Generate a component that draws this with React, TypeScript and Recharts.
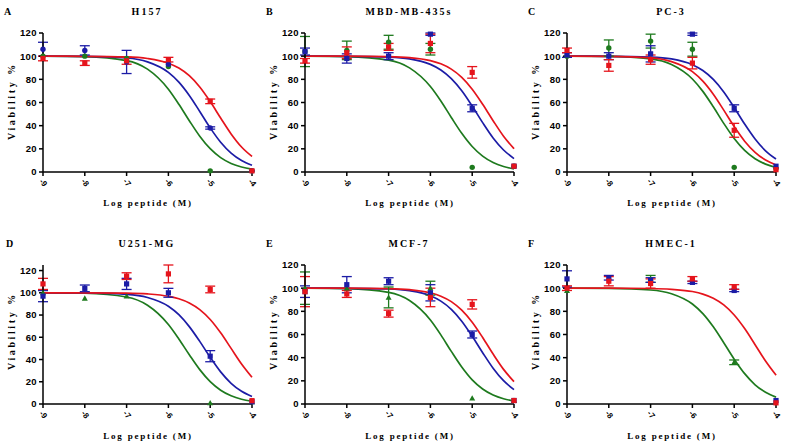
import React from 'react';
import { ComposedChart, Line, Scatter, ErrorBar, XAxis, YAxis } from 'recharts';

// x positions of the measured doses (log M)
const logDose = [-9, -8, -7, -6, -5, -4];
const fitX = [-9, -8, -7, -6.5, -6, -5.75, -5.5, -5.25, -5, -4.75, -4.5, -4.25, -4];
const yTicks = [0, 20, 40, 60, 80, 100, 120];

// A - H157
const aBlue = [106, 105, 95, 93, 38, 1];
const aBlueErr = [6, 4, 10, 0, 1, 0];
const aRed = [98, 94, 96, 97, 61, 1];
const aRedErr = [2, 2, 3, 2, 2, 0];
const aGreen = [100, 100, 98, 91, 1, 1];
const aGreenErr = [0, 0, 0, 0, 0, 0];
const aBlueFit = [100, 99.8, 98.4, 95.1, 86.0, 77.6, 66.1, 52.3, 38.1, 25.7, 16.3, 9.9, 5.8];
const aRedFit = [100, 99.9, 99.4, 98.0, 93.9, 89.7, 83.1, 73.4, 60.8, 46.6, 32.9, 21.6, 13.4];
const aGreenFit = [100, 99.6, 96.2, 88.8, 71.5, 58.5, 44.3, 30.9, 20.1, 12.4, 7.4, 4.3, 2.5];

// B - MBD-MB-435s
const bBlue = [104, 98, 100, 119, 55, 5];
const bBlueErr = [3, 4, 3, 1, 3, 0];
const bRed = [96, 103, 108, 111, 86, 5];
const bRedErr = [2, 5, 3, 8, 5, 0];
const bGreen = [104, 105, 112, 106, 4, 5];
const bGreenErr = [13, 8, 6, 5, 0, 0];
const bBlueFit = [100, 99.9, 99.2, 97.7, 92.9, 88.1, 80.6, 70.1, 56.9, 42.6, 29.4, 19.0, 11.6];
const bRedFit = [100, 100, 99.6, 98.8, 96.2, 93.4, 88.8, 81.7, 71.5, 58.5, 44.3, 30.9, 20.1];
const bGreenFit = [100, 99.6, 96.6, 89.9, 73.8, 61.3, 47.1, 33.4, 22.0, 13.7, 8.2, 4.8, 2.7];

// C - PC-3
const cBlue = [101, 100, 102, 119, 55, 5];
const cBlueErr = [2, 3, 7, 1, 3, 0];
const cRed = [105, 92, 97, 94, 36, 2];
const cRedErr = [2, 5, 4, 5, 6, 0];
const cGreen = [100, 107, 113, 106, 4, 3];
const cGreenErr = [0, 7, 6, 6, 0, 0];
const cBlueFit = [100, 99.9, 99.2, 97.6, 92.6, 87.6, 79.9, 69.1, 55.7, 41.4, 28.5, 18.3, 11.2];
const cRedFit = [100, 99.8, 98.5, 95.3, 86.6, 78.4, 67.1, 53.4, 39.2, 26.6, 17.0, 10.3, 6.1];
const cGreenFit = [100, 99.8, 97.6, 92.8, 80.3, 69.6, 56.3, 42.0, 28.9, 18.6, 11.4, 6.8, 3.9];

// D - U251-MG
const dBlue = [97, 104, 108, 100, 43, 2];
const dBlueErr = [5, 3, 5, 4, 5, 0];
const dRed = [108, null, 115, 117, 103, 3];
const dRedErr = [5, 0, 3, 8, 3, 0];
const dGreen = [100, 95, 97, null, 1, 2];
const dGreenErr = [0, 0, 0, 0, 0, 0];
const dBlueFit = [100, 99.9, 98.6, 95.8, 87.9, 80.3, 69.6, 56.3, 42.0, 28.9, 18.6, 11.4, 6.8];
const dRedFit = [100, 100, 99.7, 99.0, 96.9, 94.7, 90.9, 84.9, 76.0, 64.0, 50.0, 36.0, 24.0];
const dGreenFit = [100, 99.6, 96.2, 88.8, 71.5, 58.5, 44.3, 30.9, 20.1, 12.4, 7.4, 4.3, 2.5];

// E - MCF-7
const eBlue = [97, 103, 106, 96, 60, 3];
const eBlueErr = [5, 7, 3, 7, 3, 0];
const eRed = [97, 95, 78, 92, 86, 3];
const eRedErr = [13, 3, 3, 8, 4, 0];
const eGreen = [100, 100, 92, 100, 5, 3];
const eGreenErr = [14, 0, 9, 6, 0, 0];
const eBlueFit = [100, 99.9, 99.3, 97.8, 93.4, 88.8, 81.7, 71.5, 58.5, 44.3, 30.9, 20.1, 12.4];
const eRedFit = [100, 100, 99.6, 98.7, 96.0, 93.1, 88.4, 81.0, 70.6, 57.4, 43.1, 29.9, 19.3];
const eGreenFit = [100, 99.6, 96.3, 89.3, 72.5, 59.7, 45.4, 31.9, 20.8, 12.9, 7.7, 4.5, 2.6];

// F - HMEC-1
const fBlue = [108, 109, 107, 105, 98, 3];
const fBlueErr = [7, 2, 2, 1, 1, 0];
const fRed = [100, 106, 104, 108, 101, 1];
const fRedErr = [2, 4, 4, 2, 2, 0];
const fGreen = [98, null, 108, null, 36, null];
const fGreenErr = [0, 0, 3, 0, 2, 0];
const fRedFit = [100, 100, 99.7, 99.0, 97.1, 94.9, 91.3, 85.5, 76.8, 65.1, 51.2, 37.1, 24.9];
const fGreenFit = [100, 99.8, 98.4, 95.2, 86.3, 78.0, 66.6, 52.9, 38.7, 26.2, 16.6, 10.1, 5.9];

const BLUE = '#1c1ca6';
const RED = '#e5141c';
const GREEN = '#1e7a1e';
const SERIF = '"Liberation Serif", "Times New Roman", serif';
const SANS = '"Liberation Sans", Arial, sans-serif';

const points = (mean, err) =>
  logDose
    .map((x, i) => ({ x, y: mean[i], e: err[i] }))
    .filter(d => d.y !== null);

const fit = (vals) => fitX.map((x, i) => ({ x, y: vals[i] }));

const mk = (color, shape, mean, err, curve) => ({ color, shape, mean, err, curve });

const panels = [
  { letter: 'A', title: 'H157', row: 0, col: 0, series: [
    mk(GREEN, 'circle', aGreen, aGreenErr, aGreenFit),
    mk(BLUE, 'circle', aBlue, aBlueErr, aBlueFit),
    mk(RED, 'square', aRed, aRedErr, aRedFit),
  ] },
  { letter: 'B', title: 'MBD-MB-435s', row: 0, col: 1, series: [
    mk(GREEN, 'circle', bGreen, bGreenErr, bGreenFit),
    mk(BLUE, 'square', bBlue, bBlueErr, bBlueFit),
    mk(RED, 'square', bRed, bRedErr, bRedFit),
  ] },
  { letter: 'C', title: 'PC-3', row: 0, col: 2, series: [
    mk(GREEN, 'circle', cGreen, cGreenErr, cGreenFit),
    mk(BLUE, 'square', cBlue, cBlueErr, cBlueFit),
    mk(RED, 'square', cRed, cRedErr, cRedFit),
  ] },
  { letter: 'D', title: 'U251-MG', row: 1, col: 0, series: [
    mk(GREEN, 'triangle', dGreen, dGreenErr, dGreenFit),
    mk(BLUE, 'square', dBlue, dBlueErr, dBlueFit),
    mk(RED, 'square', dRed, dRedErr, dRedFit),
  ] },
  { letter: 'E', title: 'MCF-7', row: 1, col: 1, series: [
    mk(GREEN, 'triangle', eGreen, eGreenErr, eGreenFit),
    mk(BLUE, 'square', eBlue, eBlueErr, eBlueFit),
    mk(RED, 'square', eRed, eRedErr, eRedFit),
  ] },
  { letter: 'F', title: 'HMEC-1', row: 1, col: 2, series: [
    mk(GREEN, 'triangle', fGreen, fGreenErr, fGreenFit),
    mk(BLUE, 'square', fBlue, fBlueErr, null),
    mk(RED, 'square', fRed, fRedErr, fRedFit),
  ] },
];

const Marker = ({ cx, cy, color, kind }) => {
  if (cx == null || cy == null) return null;
  if (kind === 'circle') return <circle cx={cx} cy={cy} r={2.7} fill={color} />;
  if (kind === 'triangle')
    return <polygon points={`${cx},${cy - 3} ${cx - 3},${cy + 2.4} ${cx + 3},${cy + 2.4}`} fill={color} />;
  return <rect x={cx - 2.6} y={cy - 2.6} width={5.2} height={5.2} fill={color} />;
};

const XTick = ({ x, y, payload }) => (
  <text
    x={x}
    y={y + 5}
    transform={`rotate(50 ${x} ${y + 5})`}
    textAnchor="middle"
    dominantBaseline="middle"
    fontSize={8}
    fontWeight="bold"
    fontFamily={SANS}
    fill="#000"
  >
    {payload.value}
  </text>
);

const Panel = ({ p }) => {
  const top = p.row === 0 ? 33 : 41;
  const plotH = 139;
  const titleY = p.row === 0 ? 12 : 20;
  const yLabY = p.row === 0 ? 101 : 107;
  const xLabY = p.row === 0 ? 203 : 212;
  return (
    <div style={{ position: 'absolute', left: p.col * 262, top: p.row * 224, width: 262, height: 224 }}>
      <div style={{ position: 'absolute', left: p.col === 0 && p.row === 1 ? 6 : 4, top: titleY - 6, fontFamily: SERIF, fontWeight: 'bold', fontSize: 10, lineHeight: '12px' }}>
        {p.letter}
      </div>
      <div style={{ position: 'absolute', left: 147, top: titleY - 6, transform: 'translateX(-50%)', whiteSpace: 'nowrap', fontFamily: SERIF, fontWeight: 'bold', fontSize: 10, lineHeight: '12px', letterSpacing: 2 }}>
        {p.title}
      </div>
      <div style={{ position: 'absolute', left: 12, top: yLabY, transform: 'translate(-50%, -50%) rotate(-90deg)', whiteSpace: 'nowrap', fontFamily: SERIF, fontWeight: 'bold', fontSize: 10, lineHeight: '10px', letterSpacing: 2.6 }}>
        Viability %
      </div>
      <div style={{ position: 'absolute', left: 148, top: xLabY - 5, transform: 'translateX(-50%)', whiteSpace: 'nowrap', fontFamily: SERIF, fontWeight: 'bold', fontSize: 9, lineHeight: '10px', letterSpacing: 1.8 }}>
        Log peptide (M)
      </div>
      <ComposedChart
        width={262}
        height={224}
        margin={{ top, right: 10, bottom: 224 - top - plotH - 20, left: 1 }}
      >
        <XAxis
          dataKey="x"
          type="number"
          domain={[-9, -4]}
          ticks={logDose}
          allowDuplicatedCategory={false}
          height={20}
          stroke="#000"
          strokeWidth={1.5}
          tickSize={4}
          tick={<XTick />}
        />
        <YAxis
          dataKey="y"
          type="number"
          domain={[0, 120]}
          ticks={yTicks}
          width={42}
          stroke="#000"
          strokeWidth={1.5}
          tickSize={4}
          tick={{ fontSize: 9.5, fontWeight: 'bold', fontFamily: SANS, fill: '#000', letterSpacing: 0.4 }}
        />
        {p.series.filter(s => s.curve).map((s, i) => (
          <Line
            key={`l${i}`}
            data={fit(s.curve)}
            dataKey="y"
            type="monotone"
            stroke={s.color}
            strokeWidth={1.7}
            dot={false}
            activeDot={false}
            isAnimationActive={false}
          />
        ))}
        {p.series.map((s, i) => (
          <Scatter
            key={`s${i}`}
            data={points(s.mean, s.err)}
            dataKey="y"
            fill={s.color}
            shape={(props) => <Marker cx={props.cx} cy={props.cy} color={s.color} kind={s.shape} />}
            isAnimationActive={false}
          >
            <ErrorBar dataKey="e" direction="y" width={5} stroke={s.color} strokeWidth={1.3} />
          </Scatter>
        ))}
      </ComposedChart>
    </div>
  );
};

export default function App() {
  return (
    <div style={{ position: 'absolute', left: 0, top: 0, width: 786, height: 448, background: '#fff', overflow: 'hidden' }}>
      {panels.map(p => <Panel key={p.letter} p={p} />)}
    </div>
  );
}
